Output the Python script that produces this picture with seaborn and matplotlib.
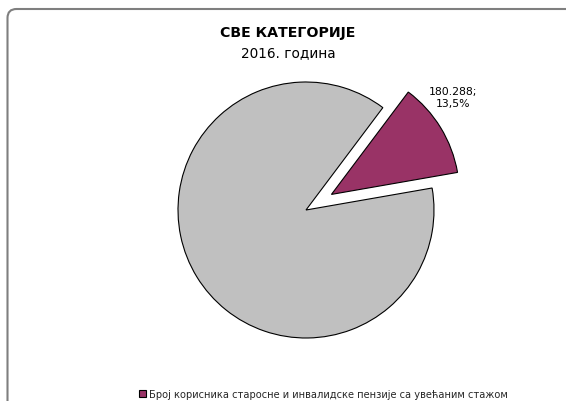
import matplotlib
matplotlib.use("Agg")
import matplotlib.pyplot as plt
import seaborn as sns
from matplotlib.patches import FancyBboxPatch
from matplotlib.transforms import IdentityTransform

# ---- data ----
categories = ["Број корисника старосне и инвалидске пензије са увећаним стажом",
              "Остали корисници"]
values = [180288, 1322112]
value_labels = ["180.288", ""]
percent_labels = ["13,5%", ""]
title = "СВЕ КАТЕГОРИЈЕ"
subtitle = "2016. година"
colors = ["#993366", "#C0C0C0"]

sns.set_theme(style="white")
plt.rcParams['font.family'] = ['DejaVu Sans']

W, H = 566, 402
fig = plt.figure(figsize=(W / 100, H / 100), dpi=100)
fig.patch.set_facecolor("white")
ax = fig.add_axes([0, 0, 1, 1])

cx, cy, R = 306, 211, 128
wedges, _ = ax.pie(values, colors=colors, startangle=9.9, counterclock=True,
                   explode=[0.233, 0],
                   wedgeprops=dict(edgecolor="black", linewidth=0.8))
ax.set_xlim(-cx / R, (W - cx) / R)
ax.set_ylim(-(H - cy) / R, cy / R)
ax.set_aspect("auto")
ax.axis("off")

# data label
fig.text(453 / W, 1 - 98 / H, f"{value_labels[0]};\n{percent_labels[0]}",
         ha="center", va="center", fontsize=7.8, linespacing=1.15, color="black")

# titles
fig.text(288 / W, 1 - 33 / H, title, ha="center", va="center",
         fontsize=10.2, fontweight="bold", color="black")
fig.text(288 / W, 1 - 53 / H, subtitle, ha="center", va="center",
         fontsize=9.8, color="black")

# legend
fig.legend(handles=[wedges[0]], labels=[categories[0]], loc="center left",
           bbox_to_anchor=(139 / W, 1 - 395 / H), frameon=False, fontsize=7.1,
           handlelength=0.7, handleheight=0.7, handletextpad=0.3,
           borderpad=0, borderaxespad=0)

# outer rounded frame
frame = FancyBboxPatch((7.5, -30), 620, (H - 10) + 30,
                       boxstyle="round,pad=0,rounding_size=9",
                       transform=IdentityTransform(), facecolor="none",
                       edgecolor="#7f7f7f", linewidth=1.5)
fig.add_artist(frame)

fig.savefig("out.png", dpi=100)
